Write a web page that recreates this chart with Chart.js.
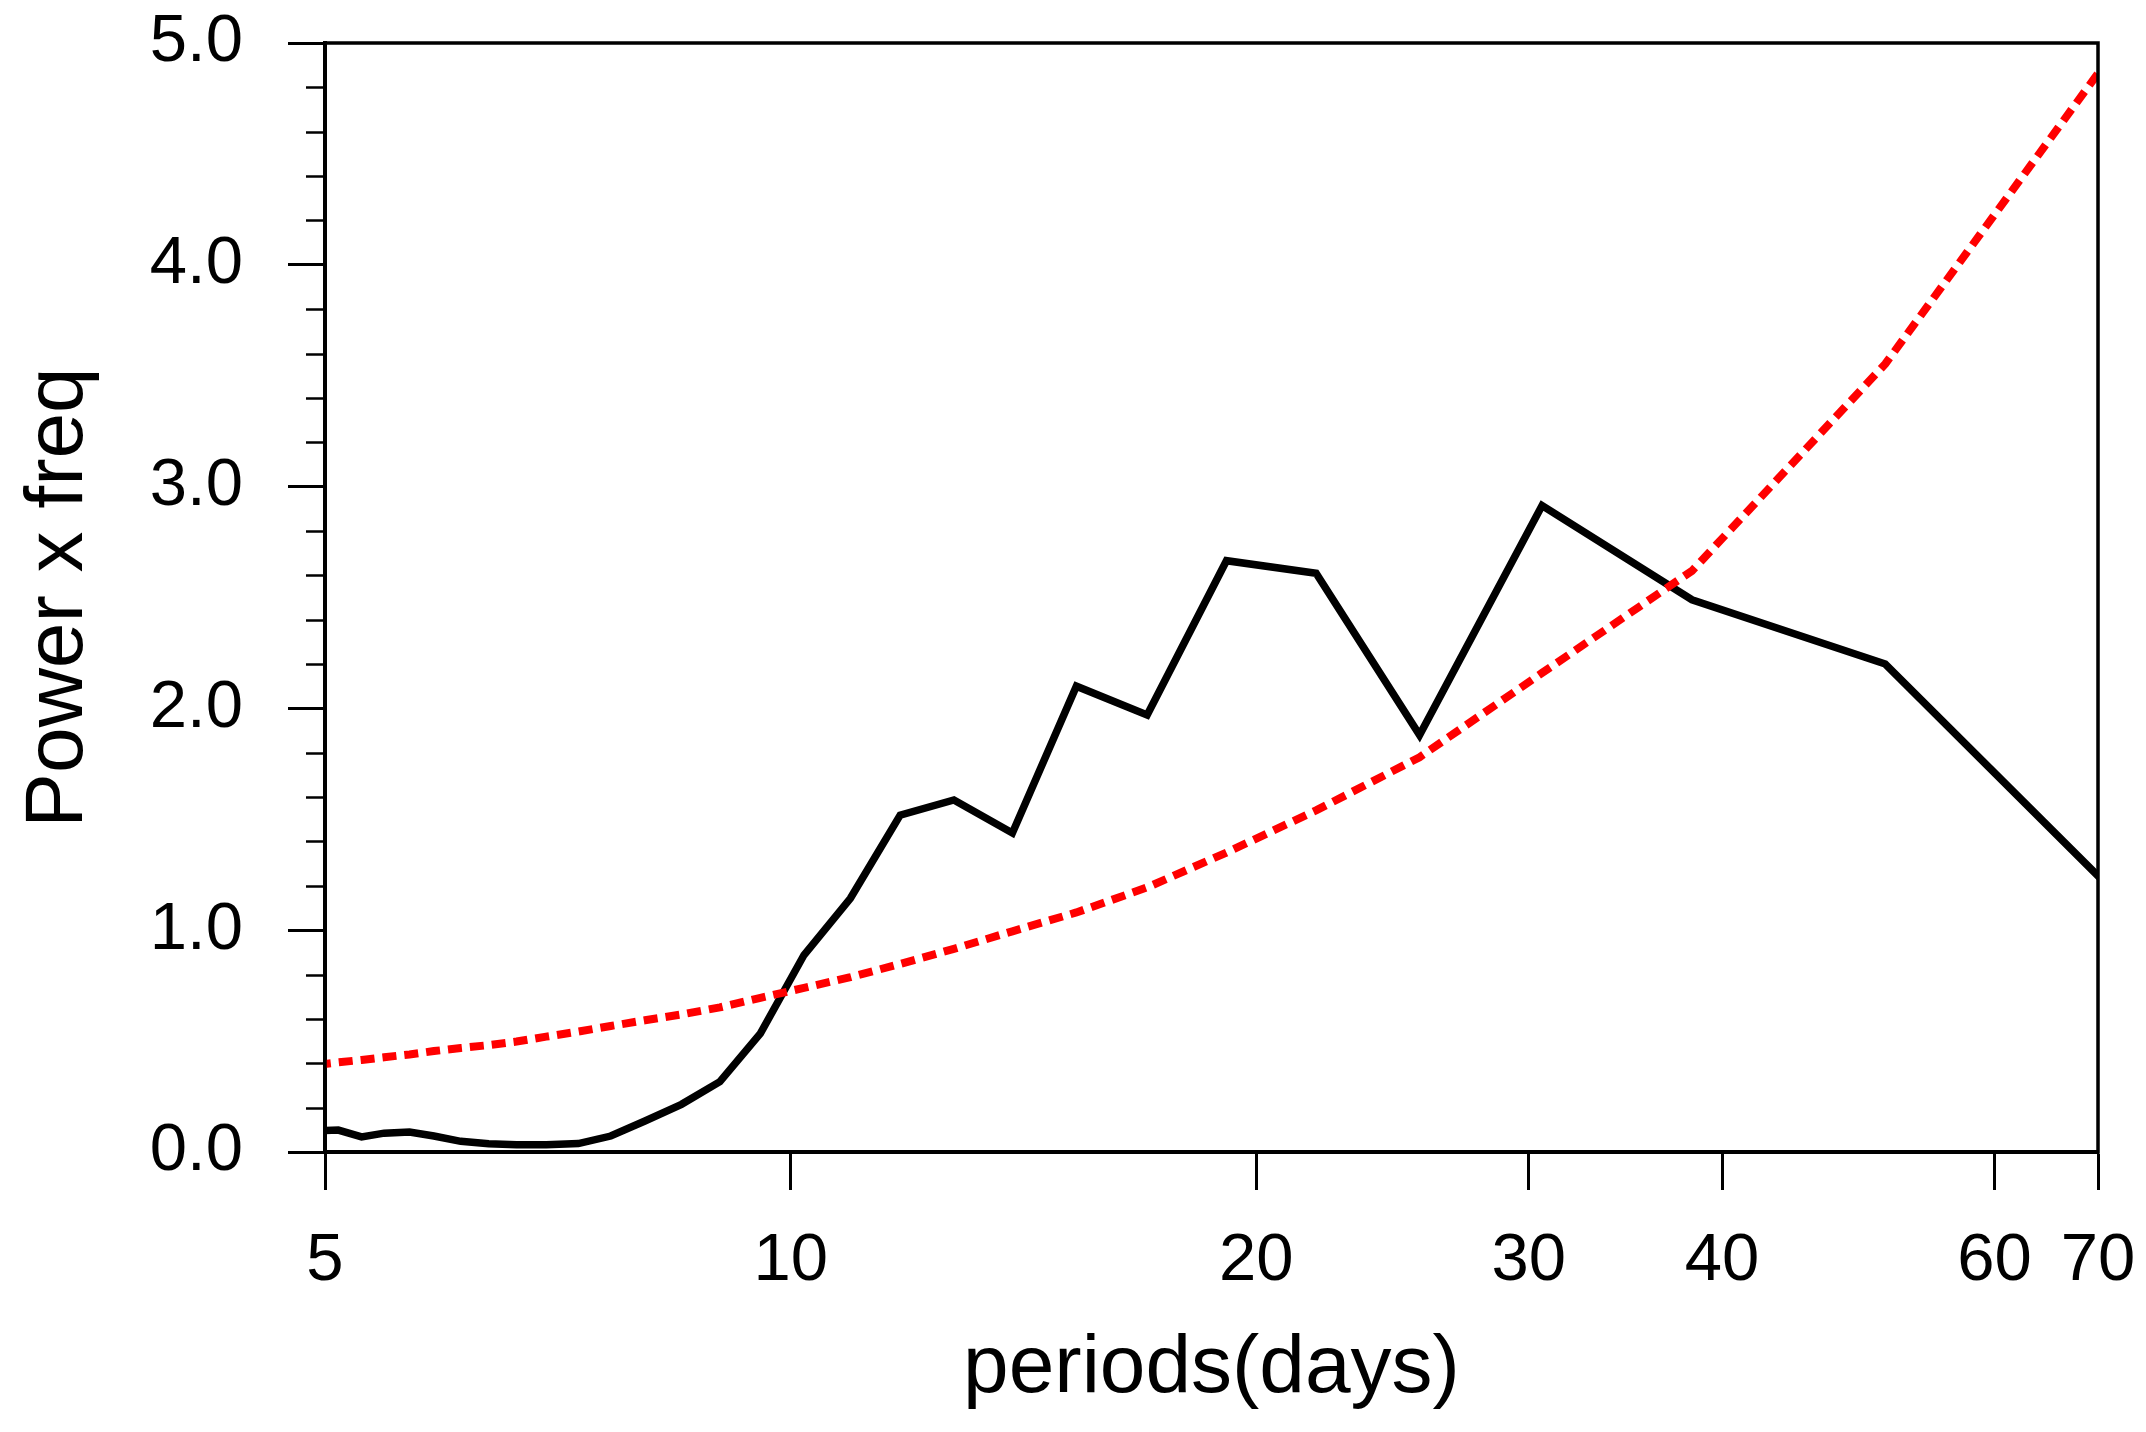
<!DOCTYPE html>
<html>
<head>
<meta charset="utf-8">
<script src="https://cdn.jsdelivr.net/npm/chart.js@4"></script>
<style>
  html,body{margin:0;padding:0;background:#fff;}
  #wrap{width:2146px;height:1432px;position:relative;}
</style>
</head>
<body>
<div id="wrap"><canvas id="c"></canvas></div>
<script>
// periods (days), ascending
const periods = [4.94,5.1,5.28,5.46,5.67,5.88,6.12,6.38,6.65,6.95,7.29,7.65,8.05,8.5,9.0,9.56,10.2,10.93,11.77,12.75,13.91,15.3,17.0,19.13,21.86,25.5,30.6,38.25,51.0,76.5];
// power x freq
const power = [0.095,0.099,0.068,0.085,0.09,0.072,0.048,0.037,0.033,0.033,0.038,0.072,0.14,0.215,0.317,0.535,0.888,1.144,1.519,1.587,1.438,2.10,1.97,2.666,2.609,1.88,2.915,2.49,2.20,0.977];
// red noise curve
const redNoise = [0.393,0.404,0.415,0.427,0.44,0.455,0.469,0.482,0.498,0.52,0.543,0.568,0.594,0.62,0.652,0.695,0.74,0.788,0.848,0.916,0.995,1.08,1.193,1.35,1.54,1.78,2.16,2.62,3.553,5.23];

const xTicks = [5,10,20,30,40,60,70];
const yTicks = [0,1,2,3,4,5];
const yMinor = [0.2,0.4,0.6,0.8,1.2,1.4,1.6,1.8,2.2,2.4,2.6,2.8,3.2,3.4,3.6,3.8,4.2,4.4,4.6,4.8];

const FONT = '"Liberation Sans", Arial, Helvetica, sans-serif';

const pts = arr => periods.map((p,i)=>({x:p,y:arr[i]}));

const framePlugin = {
  id:'frame',
  afterDraw(chart){
    const {ctx,chartArea:a} = chart;
    const ys = chart.scales.y;
    ctx.save();
    ctx.strokeStyle='#000';
    // minor ticks on y
    ctx.lineWidth=2.5;
    ctx.beginPath();
    yMinor.forEach(v=>{
      const py=Math.round(ys.getPixelForValue(v))+0.5;
      ctx.moveTo(a.left-19,py);ctx.lineTo(a.left,py);
    });
    ctx.stroke();
    // box
    ctx.lineWidth=3.5;
    ctx.strokeRect(a.left,a.top,a.right-a.left,a.bottom-a.top);
    ctx.restore();
  }
};

new Chart(document.getElementById('c'),{
  type:'line',
  data:{datasets:[
    {data:pts(redNoise),borderColor:'#ff0000',borderWidth:8,borderDash:[14,8],borderCapStyle:'butt',pointRadius:0,tension:0,fill:false},
    {data:pts(power),borderColor:'#000',borderWidth:7.5,pointRadius:0,tension:0,fill:false,borderJoinStyle:'miter'}
  ]},
  options:{
    responsive:true,maintainAspectRatio:false,animation:false,devicePixelRatio:1,
    layout:{padding:{left:0,top:43,right:48,bottom:0}},
    plugins:{legend:{display:false},tooltip:{enabled:false}},
    scales:{
      x:{
        type:'logarithmic',min:5,max:70,
        afterBuildTicks:s=>{s.ticks=xTicks.map(v=>({value:v}));},
        afterFit:s=>{s.height=280;s.paddingLeft=0;s.paddingRight=0;},
        grid:{drawOnChartArea:false,drawTicks:true,tickLength:38,tickWidth:3,tickColor:'#000'},
        border:{display:true,color:'#000',width:4},
        ticks:{autoSkip:false,maxRotation:0,minRotation:0,padding:31,color:'#000',font:{family:FONT,size:67},callback:v=>String(v)},
        title:{display:true,text:'periods(days)',color:'#000',font:{family:FONT,size:82},padding:{top:0,bottom:13}}
      },
      y:{
        type:'linear',min:0,max:5,
        afterBuildTicks:s=>{s.ticks=yTicks.map(v=>({value:v}));},
        afterFit:s=>{s.width=325;s.paddingTop=0;s.paddingBottom=0;},
        grid:{drawOnChartArea:false,drawTicks:true,tickLength:37,tickWidth:3,tickColor:'#000'},
        border:{display:true,color:'#000',width:4},
        ticks:{padding:45,color:'#000',font:{family:FONT,size:67},callback:v=>v.toFixed(1)},
        title:{display:true,text:'Power x freq',color:'#000',font:{family:FONT,size:82},padding:{top:10,bottom:0}}
      }
    }
  },
  plugins:[framePlugin]
});
</script>
</body>
</html>
